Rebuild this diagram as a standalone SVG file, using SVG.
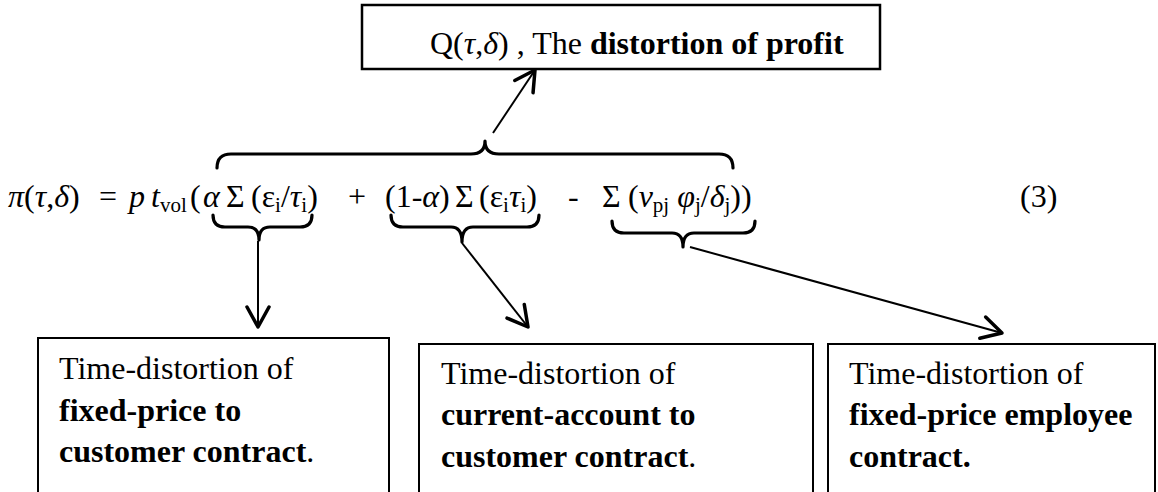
<svg xmlns="http://www.w3.org/2000/svg" width="1158" height="492" viewBox="0 0 1158 492">
<defs>
<style>
text{font-family:"Liberation Serif","Times New Roman",serif;font-size:32px;fill:#000}
.b{font-weight:bold}
.i{font-style:italic}
.sub{font-size:21px}
.box{fill:#fff;stroke:#000;stroke-width:2}
.brace{fill:none;stroke:#000;stroke-width:3.2;stroke-linecap:round;stroke-linejoin:round}
.arr{fill:none;stroke:#000;stroke-width:2;marker-end:url(#ah)}
</style>
<marker id="ah" markerUnits="userSpaceOnUse" markerWidth="40" markerHeight="40" viewBox="-30 -20 40 40" refX="0" refY="0" orient="auto" overflow="visible">
<path d="M-20,-11 L0,0 L-20,11" fill="none" stroke="#000" stroke-width="3.5" stroke-linecap="round" stroke-linejoin="round"/>
</marker>
</defs>

<g id="top-node">
<rect class="box" x="362" y="5" width="518" height="64" style="stroke-width:2.5"/>
<text x="430" y="54">Q(<tspan class="i">τ</tspan>,<tspan class="i">δ</tspan>) , The <tspan class="b">distortion of profit</tspan></text>
</g>

<g id="equation">
<text y="207"><tspan x="8" class="i">π</tspan>(<tspan class="i">τ</tspan>,<tspan class="i">δ</tspan>)</text>
<text x="99" y="207">=</text>
<text x="129" y="207" class="i">p</text>
<text x="151" y="207"><tspan class="i">t</tspan><tspan class="sub" dy="5">vol</tspan><tspan x="190" dy="-5">(</tspan></text>
<text x="203" y="207" class="i">α</text>
<text x="226" y="207">Σ</text>
<text x="251" y="207">(ε<tspan class="sub" dy="5">i</tspan><tspan dy="-5">/</tspan><tspan class="i">τ</tspan><tspan class="sub" dy="5">i</tspan><tspan dy="-5">)</tspan></text>
<text x="348" y="207">+</text>
<text x="385" y="207">(1-<tspan class="i">α</tspan>)</text>
<text x="455" y="207">Σ</text>
<text x="479" y="207">(ε<tspan class="sub" dy="5">i</tspan><tspan class="i" dy="-5">τ</tspan><tspan class="sub" dy="5">i</tspan><tspan dy="-5">)</tspan></text>
<text x="568" y="207">-</text>
<text x="602" y="207">Σ</text>
<text x="628" y="207">(<tspan class="i">v</tspan><tspan class="sub" dy="5">pj</tspan><tspan dy="-5"> </tspan><tspan class="i">φ</tspan><tspan class="sub" dy="5">j</tspan><tspan dy="-5">/</tspan><tspan class="i">δ</tspan><tspan class="sub" dy="5">j</tspan><tspan dy="-5">))</tspan></text>
<text x="1020" y="207">(3)</text>
</g>

<g id="connectors">
<path class="brace" d="M217,168 Q217,154 231,154 L471,154 Q485,154 485,141 Q485,154 499,154 L719,154 Q733,154 733,168"/>
<path class="brace" d="M213,215 Q213,227 225,227 L248,227 Q259,227 259,240 Q259,227 270,227 L300,227 Q312,227 312,215"/>
<path class="brace" d="M391,215 Q391,227 403,227 L451,227 Q462,227 462,242 Q462,227 473,227 L527,227 Q539,227 539,215"/>
<path class="brace" d="M612,221 Q612,233 624,233 L672,233 Q683,233 683,247 Q683,233 694,233 L743,233 Q755,233 755,221"/>
<line class="arr" x1="493" y1="133" x2="535" y2="70"/>
<line class="arr" x1="258" y1="241" x2="258" y2="327"/>
<line class="arr" x1="462" y1="243" x2="528" y2="327"/>
<line class="arr" x1="690" y1="247" x2="1002" y2="333"/>
</g>

<g id="node-fixed-price-customer">
<rect class="box" x="38" y="338" width="351" height="200"/>
<text x="59" y="379">Time-distortion of</text>
<text x="59" y="421" class="b">fixed-price to</text>
<text x="59" y="462"><tspan class="b">customer contract</tspan>.</text>
</g>

<g id="node-current-account">
<rect class="box" x="419" y="344" width="394" height="200"/>
<text x="441" y="384">Time-distortion of</text>
<text x="441" y="425" class="b">current-account to</text>
<text x="441" y="467"><tspan class="b">customer contract</tspan>.</text>
</g>

<g id="node-fixed-price-employee">
<rect class="box" x="828" y="344" width="327" height="200"/>
<text x="849" y="384">Time-distortion of</text>
<text x="849" y="425" class="b">fixed-price employee</text>
<text x="849" y="467" class="b">contract.</text>
</g>
</svg>
